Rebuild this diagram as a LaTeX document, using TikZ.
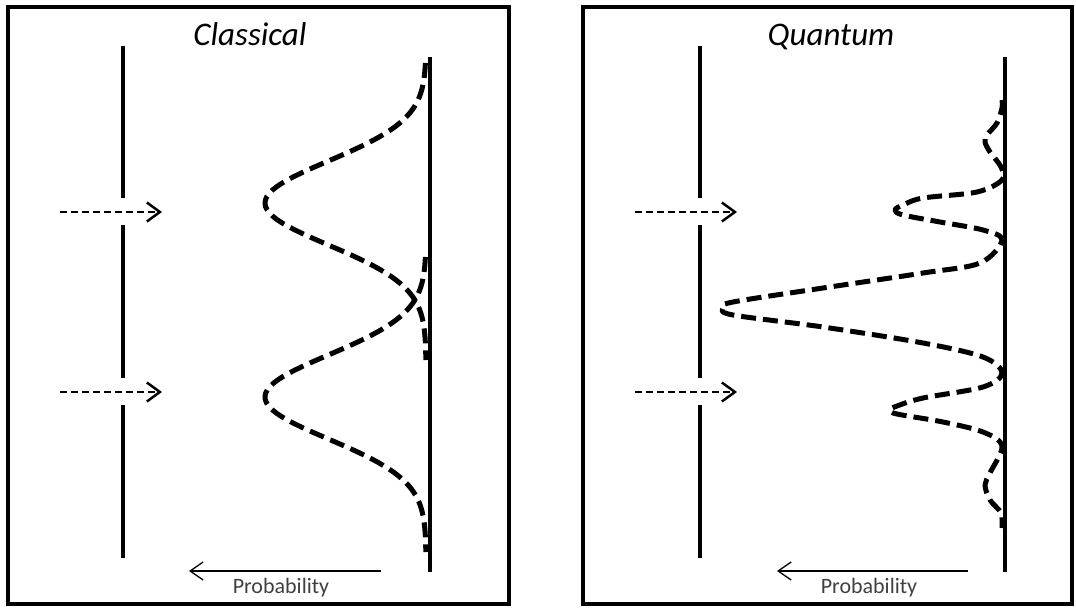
\documentclass[tikz,border=0pt]{standalone}
\usepackage{fontspec}
\setmainfont{Carlito}
\usetikzlibrary{arrows.meta}
\definecolor{labelgray}{HTML}{404040}

\begin{document}
\begin{tikzpicture}[x=1pt,y=-1pt,
  panelbox/.style={line width=3.5pt},
  wall/.style={line width=4pt},
  beam/.style={line width=2.5pt,dash pattern=on 7pt off 4pt,-{Straight Barb[length=13pt,width=19pt]}},
  probcurve/.style={line width=5pt,dash pattern=on 15pt off 7pt,line join=round},
  probarrow/.style={line width=1.3pt,-{Straight Barb[length=13pt,width=18pt]}},
  paneltitle/.style={anchor=base,font=\fontsize{33}{39}\selectfont\itshape},
  problabel/.style={anchor=base,text=labelgray,font=\fontsize{22}{26}\selectfont}]
\useasboundingbox (0,0) rectangle (1076,610);
% 两个边框
\draw[panelbox] (8,7) rectangle (509,604);
\draw[panelbox] (583,7) rectangle (1072,604);
% 标题
\node[paneltitle] (cltitle) at (250,46) {Classical};
\node[paneltitle] (qmtitle) at (831,46) {Quantum};
% 双缝挡板
\foreach \a/\b in {46/198,225/378,405/558} {
  \draw[wall] (123,\a) -- (123,\b);
  \draw[wall] (700,\a) -- (700,\b);
}
% 屏
\draw[wall] (430,57) -- (430,572);
\draw[wall] (1005,57) -- (1005,572);
% 入射箭头
\coordinate (cl-src1) at (60,212);  \coordinate (cl-in1) at (162,212);
\coordinate (cl-src2) at (60,392);  \coordinate (cl-in2) at (162,392);
\coordinate (qm-src1) at (635,212); \coordinate (qm-in1) at (737,212);
\coordinate (qm-src2) at (635,392); \coordinate (qm-in2) at (737,392);
\draw[beam] (cl-src1) -- (cl-in1);
\draw[beam] (cl-src2) -- (cl-in2);
\draw[beam] (qm-src1) -- (qm-in1);
\draw[beam] (qm-src2) -- (qm-in2);
% 经典：两个高斯分布
\draw[probcurve] plot[domain=63:360,samples=90,variable=\t] ({426-161*exp(-((\t-203)/42)^2/2)},\t);
\draw[probcurve] plot[domain=257:552,samples=90,variable=\t] ({426-161*exp(-((\t-397)/42)^2/2)},\t);
% 量子：干涉图样
\draw[probcurve] plot[smooth,tension=0.55] coordinates {
  (1002,100) (1002,108) (997,123) (987,135) (985,142) (990,152) (1001,167) (1002,180)
  (977,192) (923,198) (903,205) (895,210) (903,215) (940,222) (983,230) (1002,240)
  (980,263) (923,273) (823,288) (733,302) (723,308) (733,315) (823,327) (923,343) (983,357) (1002,373)
  (983,387) (923,398) (897,406) (890,410) (897,414) (943,422) (983,432) (1002,446)
  (990,473) (985,485) (990,500) (1001,513) (1002,528)};
% 概率坐标方向
\coordinate (cl-pfrom) at (381,571); \coordinate (cl-pto) at (189,571);
\coordinate (qm-pfrom) at (968,571); \coordinate (qm-pto) at (777,571);
\draw[probarrow] (cl-pfrom) -- (cl-pto);
\draw[probarrow] (qm-pfrom) -- (qm-pto);
\node[problabel] (clprob) at (281,593) {Probability};
\node[problabel] (qmprob) at (869,593) {Probability};
\end{tikzpicture}
\end{document}
